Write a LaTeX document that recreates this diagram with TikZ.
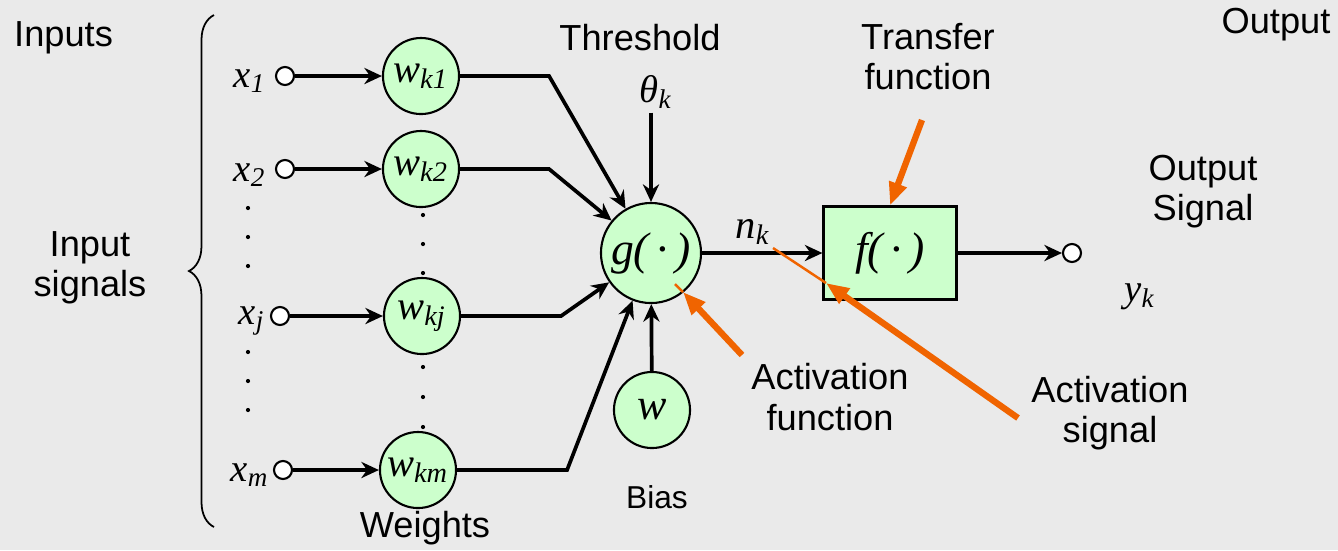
\documentclass[tikz,border=0pt]{standalone}
\usepackage{fontspec}
\setmainfont{Liberation Sans}
\newfontfamily\tms{Liberation Serif}
\usetikzlibrary{arrows.meta,decorations.pathreplacing}

\definecolor{marble}{RGB}{234,234,234}
\definecolor{cellgreen}{RGB}{204,255,204}
\definecolor{hint}{RGB}{240,100,0}

\begin{document}
\begin{tikzpicture}[x=0.01cm, y=-0.01cm,
    wt/.style={circle, draw, line width=0.6pt, fill=cellgreen, minimum size=0.76cm, inner sep=0pt, font=\tms\itshape\fontsize{11.5}{13}\selectfont},
    sum/.style={circle, draw, line width=0.6pt, fill=cellgreen, minimum size=1.0cm, inner sep=0pt, font=\tms\itshape\fontsize{13}{15}\selectfont},
    tf/.style={rectangle, draw, line width=0.6pt, fill=cellgreen, minimum width=1.33cm, minimum height=0.93cm, font=\tms\itshape\fontsize{13}{15}\selectfont},
    port/.style={circle, draw, line width=0.6pt, fill=white, minimum size=0.18cm, inner sep=0pt},
    lbl/.style={font=\fontsize{10.3}{11.4}\selectfont, align=center, inner sep=1pt},
    sym/.style={font=\tms\itshape\fontsize{11}{12}\selectfont, inner sep=1pt},
    arr/.style={-{Stealth[length=5pt, width=4.6pt]}, line width=1.05pt},
    oarr/.style={-{Triangle[length=6.5pt, width=5pt]}, line width=1.8pt, hint},
    othin/.style={line width=0.7pt, hint}
]
\fill[marble] (0,0) rectangle (1338,550);
\useasboundingbox (0,0) rectangle (1338,550);

% text labels
\node[lbl, anchor=west] (inputs) at (10,38) {Inputs};
\node[lbl] (insig) at (90,268) {Input\\signals};
\node[lbl] (thr) at (640,38) {Threshold};
\node[lbl] (trf) at (928,57) {Transfer\\function};
\node[lbl] (outp) at (1276,25) {Output};
\node[lbl] (osig) at (1203,192) {Output\\Signal};
\node[lbl] (afun) at (830,397) {Activation\\function};
\node[lbl] (asig) at (1110,413) {Activation\\signal};
\node[lbl] (wts) at (425,528) {Weights};
\node[lbl, font=\fontsize{9}{10}\selectfont] (bias) at (657,497) {Bias};

% brace over the inputs
\draw[line width=0.5pt, decorate, decoration={brace, amplitude=0.25cm}] (214,527) -- (214,15);

% inputs
\node[port] (x1) at (285,76) {};
\node[port] (x2) at (285,169) {};
\node[port] (xj) at (280,316) {};
\node[port] (xm) at (283,470) {};
\node[sym] (lx1) at (250,81) {x\textsubscript{1}};
\node[sym] (lx2) at (250,175) {x\textsubscript{2}};
\node[sym] (lxj) at (252,321) {x\textsubscript{j}};
\node[sym] (lxm) at (250,475) {x\textsubscript{m}};
\foreach \y in {208,237,266,352,381,410} \fill (248,\y) circle (0.6pt);

% weights
\node[wt] (w1) at (421,76) {w\textsubscript{k1}};
\node[wt] (w2) at (421,169) {w\textsubscript{k2}};
\node[wt] (wj) at (422,316) {w\textsubscript{kj}};
\node[wt] (wm) at (418,470) {w\textsubscript{km}};
\foreach \y in {215,244,273,367,397,427} \fill (423,\y) circle (0.6pt);

\draw[arr] (x1) -- (w1);
\draw[arr] (x2) -- (w2);
\draw[arr] (xj) -- (wj);
\draw[arr] (xm) -- (wm);

% summing junction
\node[sum] (g) at (651,253) {g(\,·\,)};
\node[sym] (theta) at (656,92) {θ\textsubscript{k}};
\node[wt, font=\tms\itshape\fontsize{12.5}{14}\selectfont] (b) at (652,410) {w};

\draw[arr] (w1.east) -- ++(89,0) -- (g);
\draw[arr] (w2.east) -- ++(89,0) -- (g);
\draw[arr] (wj.east) -- ++(100,0) -- (g);
\draw[arr] (wm.east) -- ++(110,0) -- (g);
\draw[arr] (theta.south -| g) -- (g);
\draw[arr] (b) -- (g);

% transfer and output
\node[tf] (f) at (890,253) {f(\,·\,)};
\node[port] (out) at (1072,253) {};
\node[sym, font=\tms\itshape\fontsize{11.5}{13}\selectfont] (nk) at (753,232) {n\textsubscript{k}};
\node[sym] (yk) at (1140,297) {y\textsubscript{k}};

\draw[arr] (g) -- (f);
\draw[arr] (f) -- (out);

% orange pointers
\coordinate (tf0) at (922,120);
\coordinate (af0) at (742,355);
\coordinate (af1) at (683,292);
\coordinate (af2) at (675,284);
\coordinate (as0) at (1018,418);
\coordinate (as1) at (826,283);
\coordinate (as2) at (773,248);

\draw[oarr] (tf0) -- (f.north);
\draw[othin] (af1) -- (af2);
\draw[oarr] (af0) -- (af1);
\draw[othin] (as1) -- (as2);
\draw[oarr] (as0) -- (as1);
\end{tikzpicture}
\end{document}
